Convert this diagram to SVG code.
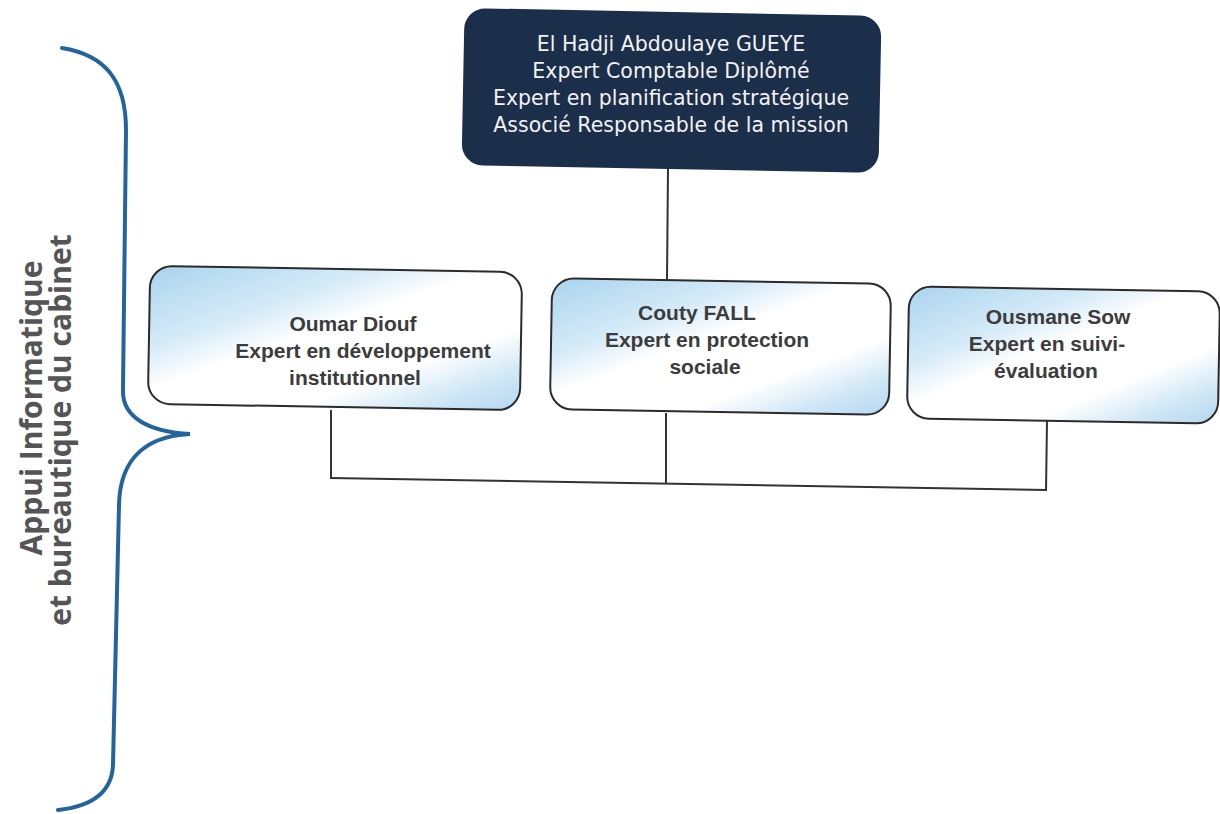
<svg xmlns="http://www.w3.org/2000/svg" width="1220" height="814" viewBox="0 0 1220 814">
<defs>
<linearGradient id="sky" x1="0" y1="0" x2="1" y2="1">
<stop offset="0" stop-color="#a9d3ee"/>
<stop offset="0.3" stop-color="#d6ebf8"/>
<stop offset="0.45" stop-color="#ffffff"/>
<stop offset="0.7" stop-color="#ffffff"/>
<stop offset="0.85" stop-color="#d2e8f6"/>
<stop offset="1" stop-color="#b3d8f0"/>
</linearGradient>
<style>
.box{fill:url(#sky);stroke:#2b2b2b;stroke-width:2}
.top{fill:#1b2e4a;stroke:#1b2e4a;stroke-width:2}
.t{font-family:"Liberation Sans",Arial,sans-serif;font-size:21px;font-weight:bold;fill:#3c3c3c;text-anchor:middle}
.tw{font-family:"DejaVu Sans","Liberation Sans",sans-serif;font-size:20.5px;fill:#f2f2f2;text-anchor:middle}
.side{font-family:"Open Sans","DejaVu Sans",sans-serif;font-size:30px;font-weight:bold;fill:#555555;text-anchor:middle}
.ln{stroke:#333333;stroke-width:2;fill:none}
.brace{stroke:#24649e;stroke-width:4;fill:none;stroke-linecap:round}
</style>
</defs>
<rect width="1220" height="814" fill="#ffffff"/>

<g id="brace">
<path class="brace" d="M62,48 C105,55 126,80 126,130 L123,390 C122,418 150,432 190,434 C150,436 120,455 119,505 L113,765 C112,790 95,806 58,810"/>
</g>
<g id="side-label">
<text class="side" transform="translate(42,408) rotate(-90)">Appui Informatique</text>
<text class="side" transform="translate(71,430) rotate(-90)">et bureautique du cabinet</text>
</g>

<g id="connectors">
<line class="ln" x1="668" y1="168" x2="667" y2="281"/>
<line class="ln" x1="331" y1="410" x2="331" y2="478"/>
<line class="ln" x1="666" y1="413" x2="666" y2="484"/>
<line class="ln" x1="1047" y1="421" x2="1046" y2="491"/>
<line class="ln" x1="330" y1="478" x2="1047" y2="490"/>
</g>

<g id="n-top">
<rect class="top" x="464" y="13" width="415" height="155" rx="20" transform="rotate(1.1 671 92)"/>
<text class="tw" x="671" y="51">El Hadji Abdoulaye GUEYE</text>
<text class="tw" x="671" y="78">Expert Comptable Diplômé</text>
<text class="tw" x="671" y="105">Expert en planification stratégique</text>
<text class="tw" x="671" y="132">Associé Responsable de la mission</text>
</g>

<g id="n-oumar">
<rect class="box" x="149" y="269" width="372" height="138" rx="22" transform="rotate(1 335 338)"/>
<text class="t" x="353" y="331">Oumar Diouf</text>
<text class="t" x="363" y="358">Expert en développement</text>
<text class="t" x="355" y="385">institutionnel</text>
</g>

<g id="n-couty">
<rect class="box" x="551" y="281" width="339" height="131" rx="22" transform="rotate(1 720 346)"/>
<text class="t" x="697" y="320">Couty FALL</text>
<text class="t" x="707" y="347">Expert en protection</text>
<text class="t" x="705" y="374">sociale</text>
</g>

<g id="n-ousmane">
<rect class="box" x="908" y="289" width="311" height="132" rx="22" transform="rotate(1 1063 354)"/>
<text class="t" x="1058" y="324">Ousmane Sow</text>
<text class="t" x="1047" y="351">Expert en suivi-</text>
<text class="t" x="1046" y="378">évaluation</text>
</g>
</svg>
